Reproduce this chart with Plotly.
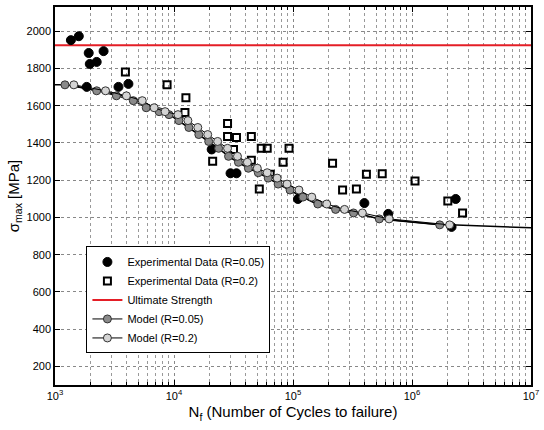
import plotly.graph_objects as go

# Experimental fatigue data, R = 0.05 (cycles to failure, max stress MPa)
exp005_N = [1360, 1585, 1920, 1960, 2240, 2560, 1848, 3415, 4140, 20730,
            29850, 33500, 110000, 398000, 631000, 2330000, 2150000]
exp005_S = [1952, 1973, 1883, 1824, 1835, 1893, 1701, 1701, 1717, 1365,
            1237, 1237, 1099, 1077, 1019, 1099, 949]

# Experimental fatigue data, R = 0.2
exp02_N = [3905, 8745, 12590, 12360, 28180, 28180, 33500, 44670, 54100, 60700,
           92650, 21130, 82540, 215000, 414000, 64300, 562000, 1060000, 31620,
           44670, 52100, 261000, 341000, 2000000, 2660000]
exp02_S = [1781, 1712, 1643, 1563, 1504, 1435, 1429, 1435, 1371, 1371,
           1371, 1301, 1296, 1291, 1232, 1232, 1235, 1195, 1365,
           1307, 1152, 1147, 1152, 1088, 1024]

# Ultimate tensile strength
ultimate_strength = 1925

# Model curve
curve_N = [1000, 1212, 1440, 2240, 2660, 3280, 3980, 4830, 5410, 6810, 8420,
           10000, 11660, 13830, 16160, 18840, 22390, 26100, 30400, 36200,
           42170, 50120, 58400, 68130, 81000, 94400, 116000, 152000, 203000,
           261000, 363000, 532000, 646000, 1710000, 2080000, 10000000]
curve_S = [1712, 1712, 1707, 1680, 1680, 1653, 1653, 1627, 1621, 1589, 1568,
           1536, 1504, 1477, 1445, 1413, 1381, 1349, 1317, 1291,
           1264, 1243, 1221, 1195, 1168, 1147, 1115, 1077, 1051,
           1035, 1019, 992, 987, 960, 960, 944]

# Model predictions at the tested stress levels
model_S = [1712, 1680, 1653, 1627, 1589, 1568, 1552, 1520, 1483, 1445, 1408,
           1371, 1328, 1296, 1264, 1240, 1211, 1179, 1147, 1109, 1072, 1043,
           1024, 992, 960]
model005_N = [1212, 2240, 3280, 4550, 5840, 7500, 9080, 11000, 13340, 16160,
              19570, 23710, 28730, 34800, 42170, 51090, 61900, 74990, 94400,
              121200, 161600, 228000, 322400, 530900, 1710000]
model02_N = [1440, 2660, 3980, 5410, 6810, 8420, 10800, 13090, 15850, 19200,
             23260, 28180, 34150, 41370, 50120, 60700, 73560, 89130, 112200,
             143900, 192000, 271200, 383000, 642300, 2070000]

x_tickvals = [1e3, 1e4, 1e5, 1e6, 1e7]
x_ticktext = ["10<sup>3</sup>", "10<sup>4</sup>", "10<sup>5</sup>",
              "10<sup>6</sup>", "10<sup>7</sup>"]
x_minorvals = [m * d for d in (1e3, 1e4, 1e5, 1e6) for m in range(2, 10)]
y_tickvals = [200, 400, 600, 800, 1000, 1200, 1400, 1600, 1800, 2000]

FONT = "Liberation Sans"

fig = go.Figure()

fig.add_trace(go.Scatter(
    x=[1e3, 1e7], y=[ultimate_strength] * 2, mode="lines",
    line=dict(color="#e41e26", width=2), name="Ultimate Strength",
    legendrank=3))

fig.add_trace(go.Scatter(
    x=exp005_N, y=exp005_S, mode="markers",
    marker=dict(symbol="circle", size=9, color="black",
                line=dict(color="black", width=1)),
    name="Experimental Data (R=0.05)", legendrank=1))

fig.add_trace(go.Scatter(
    x=exp02_N, y=exp02_S, mode="markers",
    marker=dict(symbol="square-open", size=7, color="black",
                line=dict(color="black", width=2)),
    name="Experimental Data (R=0.2)", legendrank=2))

fig.add_trace(go.Scatter(
    x=curve_N, y=curve_S, mode="lines",
    line=dict(color="black", width=1.5), showlegend=False,
    hoverinfo="skip"))

fig.add_trace(go.Scatter(
    x=model005_N, y=model_S, mode="lines+markers",
    line=dict(color="black", width=1),
    marker=dict(symbol="circle", size=8, color="#8a8a8a",
                line=dict(color="#333333", width=1)),
    name="Model (R=0.05)", legendrank=4))

fig.add_trace(go.Scatter(
    x=model02_N, y=model_S, mode="lines+markers",
    line=dict(color="black", width=1),
    marker=dict(symbol="circle", size=8, color="#d4d4d4",
                line=dict(color="#333333", width=1)),
    name="Model (R=0.2)", legendrank=5))

fig.update_layout(
    width=544, height=430,
    margin=dict(l=55, r=9, t=5, b=45),
    paper_bgcolor="white", plot_bgcolor="white",
    font=dict(family=FONT, size=11, color="black"),
    legend=dict(
        x=0.066, y=0.225, xanchor="left", yanchor="middle",
        bgcolor="white", bordercolor="black", borderwidth=1,
        font=dict(size=11), tracegroupgap=0, itemwidth=30),
    showlegend=True,
)

fig.update_xaxes(
    type="log", range=[3, 7],
    tickvals=x_tickvals, ticktext=x_ticktext,
    ticks="inside", ticklen=5, tickcolor="black",
    showline=True, linecolor="black", linewidth=1.5, mirror="ticks",
    showgrid=True, gridcolor="#888888", griddash="dot", gridwidth=1,
    minor=dict(tickmode="array", tickvals=x_minorvals,
               ticks="inside", ticklen=3, tickcolor="black",
               showgrid=True, gridcolor="#999999", griddash="dot"),
    zeroline=False,
    title=dict(text="N<sub>f</sub> (Number of Cycles to failure)",
               font=dict(size=15), standoff=6),
)

fig.update_yaxes(
    range=[100, 2130],
    tickvals=y_tickvals,
    ticks="inside", ticklen=5, tickcolor="black",
    showline=True, linecolor="black", linewidth=1.5, mirror="ticks",
    showgrid=True, gridcolor="#888888", griddash="dot", gridwidth=1,
    zeroline=False,
    title=dict(text="σ<sub>max</sub> [MPa]", font=dict(size=15), standoff=3),
)

fig.write_html("out.html")
